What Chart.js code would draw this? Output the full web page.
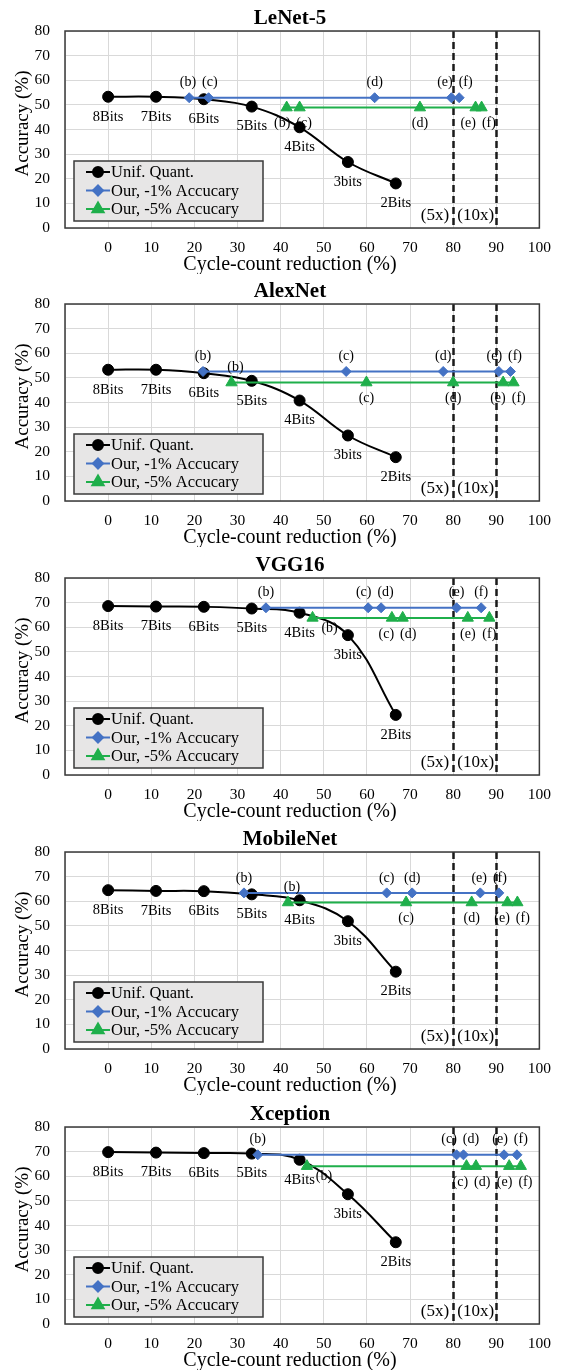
<!DOCTYPE html>
<html>
<head>
<meta charset="utf-8">
<title>Accuracy vs cycle-count reduction</title>
<script src="https://cdn.jsdelivr.net/npm/chart.js@4.4.0/dist/chart.umd.min.js"></script>
<style>
  html, body { margin: 0; padding: 0; background: #ffffff; }
  body { width: 562px; height: 1372px; position: relative; overflow: hidden; }
  .panel { position: absolute; left: 0; width: 562px; height: 274px; }
</style>
</head>
<body>
<div class="panel" style="top:0px"><canvas id="c0" width="562" height="274"></canvas></div>
<div class="panel" style="top:273px"><canvas id="c1" width="562" height="274"></canvas></div>
<div class="panel" style="top:547px"><canvas id="c2" width="562" height="274"></canvas></div>
<div class="panel" style="top:821px"><canvas id="c3" width="562" height="274"></canvas></div>
<div class="panel" style="top:1096px"><canvas id="c4" width="562" height="274"></canvas></div>
<script>
// Shared categories / labels.
const bitLabels = ['8Bits', '7Bits', '6Bits', '5Bits', '4Bits', '3bits', '2Bits'];
const unifX = [0, 11.1, 22.2, 33.3, 44.4, 55.6, 66.7];
const ourLabels = ['(b)', '(c)', '(d)', '(e)', '(f)'];
const seriesNames = ['Unif. Quant.', 'Our, -1% Accucary', 'Our, -5% Accucary'];
const xTickMin = -10;
const xTickMax = 100;
const yTickMax = 80;
const speedupX = [80, 90];
const speedupLabels = ['(5x)', '(10x)'];

// LeNet-5
const lenetUnif = [53.3, 53.3, 52.3, 49.3, 40.9, 26.8, 18.1];
const lenetOur1X = [18.8, 23.3, 61.8, 79.6, 81.4];
const lenetOur1Y = [52.9, 52.9, 52.9, 52.9, 52.9];
const lenetOur5X = [41.4, 44.4, 72.3, 85.2, 86.6];
const lenetOur5Y = [48.9, 48.9, 48.9, 48.9, 48.9];

// AlexNet
const alexUnif = [53.3, 53.3, 51.9, 48.8, 40.8, 26.6, 17.8];
const alexOur1X = [22.0, 55.2, 77.7, 90.6, 93.3];
const alexOur1Y = [52.6, 52.6, 52.6, 52.6, 52.6];
const alexOur5X = [28.6, 59.9, 80.0, 91.6, 94.0];
const alexOur5Y = [48.1, 48.1, 48.1, 48.1, 48.1];

// VGG16
const vggUnif = [68.6, 68.4, 68.3, 67.6, 65.9, 56.8, 24.4];
const vggOur1X = [36.6, 60.3, 63.3, 80.8, 86.5];
const vggOur1Y = [67.9, 67.9, 67.9, 67.9, 67.9];
const vggOur5X = [47.4, 65.8, 68.3, 83.4, 88.4];
const vggOur5Y = [63.8, 63.8, 63.8, 63.8, 63.8];

// MobileNet
const mobileUnif = [64.5, 64.2, 64.1, 62.8, 60.4, 51.9, 31.4];
const mobileOur1X = [31.5, 64.6, 70.5, 86.3, 90.6];
const mobileOur1Y = [63.4, 63.4, 63.4, 63.4, 63.4];
const mobileOur5X = [41.7, 69.1, 84.3, 92.6, 94.9];
const mobileOur5Y = [59.5, 59.5, 59.5, 59.5, 59.5];

// Xception
const xcepUnif = [69.8, 69.6, 69.4, 69.2, 66.7, 52.7, 33.2];
const xcepOur1X = [34.7, 80.8, 82.4, 91.8, 94.8];
const xcepOur1Y = [68.7, 68.7, 68.7, 68.7, 68.7];
const xcepOur5X = [46.1, 83.1, 85.3, 93.0, 95.7];
const xcepOur5Y = [64.1, 64.1, 64.1, 64.1, 64.1];

// Where the -5% labels sit: b = below, a = above, r = below right.
const lenetOur5Place = ['b', 'b', 'b', 'b', 'b'];
const alexOur5Place = ['a', 'b', 'b', 'b', 'b'];
const vggOur5Place = ['r', 'b', 'b', 'b', 'b'];
const mobileOur5Place = ['a', 'b', 'b', 'b', 'b'];
const xcepOur5Place = ['r', 'b', 'b', 'b', 'b'];

const panels = [
	{ title: 'LeNet-5', unif: lenetUnif, o1x: lenetOur1X, o1y: lenetOur1Y, o5x: lenetOur5X, o5y: lenetOur5Y, place: lenetOur5Place },
	{ title: 'AlexNet', unif: alexUnif, o1x: alexOur1X, o1y: alexOur1Y, o5x: alexOur5X, o5y: alexOur5Y, place: alexOur5Place },
	{ title: 'VGG16', unif: vggUnif, o1x: vggOur1X, o1y: vggOur1Y, o5x: vggOur5X, o5y: vggOur5Y, place: vggOur5Place },
	{ title: 'MobileNet', unif: mobileUnif, o1x: mobileOur1X, o1y: mobileOur1Y, o5x: mobileOur5X, o5y: mobileOur5Y, place: mobileOur5Place },
	{ title: 'Xception', unif: xcepUnif, o1x: xcepOur1X, o1y: xcepOur1Y, o5x: xcepOur5X, o5y: xcepOur5Y, place: xcepOur5Place }
];

const SERIF = '"Liberation Serif", "Times New Roman", serif';
const colors = { unif: '#000000', our1: '#4472C4', our5: '#1FAF4B', grid: '#d9d9d9', frame: '#3a3a3a' };

// Spread labels of one row so they do not overlap.
function spreadRow(items, gap) {
	items.sort(function(a, b) { return a.x - b.x; });
	for (let it = 0; it < 30; it++) {
		for (let i = 1; i < items.length; i++) {
			const a = items[i - 1], b = items[i];
			const need = a.w / 2 + b.w / 2 + gap - (b.x - a.x);
			if (need > 0) {
				a.x -= need / 2;
				b.x += need / 2;
			}
		}
	}
}

const decor = {
	id: 'decor',
	beforeDatasetsDraw: function(chart) {
		const ctx = chart.ctx;
		const area = chart.chartArea;
		const xs = chart.scales.x;
		ctx.save();
		// Speed-up markers.
		ctx.strokeStyle = '#1a1a1a';
		ctx.lineWidth = 2.5;
		ctx.setLineDash([7, 4]);
		speedupX.forEach(function(v) {
			const px = Math.round(xs.getPixelForValue(v)) + 0.5;
			ctx.beginPath();
			ctx.moveTo(px, area.top);
			ctx.lineTo(px, area.bottom);
			ctx.stroke();
		});
		ctx.setLineDash([]);
		const p80 = xs.getPixelForValue(speedupX[0]);
		const p90 = xs.getPixelForValue(speedupX[1]);
		ctx.fillStyle = '#000';
		ctx.font = '17px ' + SERIF;
		ctx.textBaseline = 'middle';
		ctx.textAlign = 'right';
		ctx.fillText(speedupLabels[0], p80 - 4, area.bottom - 12);
		ctx.textAlign = 'center';
		ctx.fillText(speedupLabels[1], (p80 + p90) / 2 + 1, area.bottom - 12);
		// Plot frame.
		ctx.strokeStyle = colors.frame;
		ctx.lineWidth = 1.5;
		ctx.strokeRect(area.left, area.top, area.right - area.left, area.bottom - area.top);
		ctx.restore();
	},
	afterDatasetsDraw: function(chart) {
		const ctx = chart.ctx;
		const area = chart.chartArea;
		const panel = panels[+chart.canvas.id.slice(1)];
		ctx.save();
		ctx.fillStyle = '#000';
		ctx.textBaseline = 'middle';
		ctx.textAlign = 'center';

		// Bit labels under the uniform quantisation points.
		ctx.font = '14.5px ' + SERIF;
		chart.getDatasetMeta(0).data.forEach(function(pt, i) {
			ctx.fillText(bitLabels[i], pt.x, pt.y + 20);
		});

		// (b)..(f) labels.
		ctx.font = '14px ' + SERIF;
		const rows = { a1: [], a5: [], b5: [], r5: [] };
		chart.getDatasetMeta(1).data.forEach(function(pt, i) {
			rows.a1.push({ t: ourLabels[i], x: pt.x, y: pt.y - 15, w: ctx.measureText(ourLabels[i]).width });
		});
		chart.getDatasetMeta(2).data.forEach(function(pt, i) {
			const w = ctx.measureText(ourLabels[i]).width;
			const pl = panel.place[i];
			if (pl === 'a') rows.a5.push({ t: ourLabels[i], x: pt.x + 4, y: pt.y - 15, w: w });
			else if (pl === 'r') rows.r5.push({ t: ourLabels[i], x: pt.x + 17, y: pt.y + 10, w: w });
			else rows.b5.push({ t: ourLabels[i], x: pt.x, y: pt.y + 16, w: w });
		});
		Object.keys(rows).forEach(function(k) {
			spreadRow(rows[k], 6);
			rows[k].forEach(function(l) { ctx.fillText(l.t, l.x, l.y); });
		});

		// Legend box.
		const lx = area.left + 9, ly = area.top + 130, lw = 189, lh = 60;
		ctx.fillStyle = '#e7e6e6';
		ctx.fillRect(lx, ly, lw, lh);
		ctx.strokeStyle = colors.frame;
		ctx.lineWidth = 1.5;
		ctx.strokeRect(lx, ly, lw, lh);
		const styles = [
			{ c: colors.unif, s: 'circle', r: 5 },
			{ c: colors.our1, s: 'rectRot', r: 5 },
			{ c: colors.our5, s: 'triangle', r: 6.5 }
		];
		ctx.font = '16.5px ' + SERIF;
		ctx.textAlign = 'left';
		styles.forEach(function(st, i) {
			const ry = ly + 11 + i * 18.5;
			ctx.strokeStyle = st.c;
			ctx.fillStyle = st.c;
			ctx.lineWidth = 2;
			ctx.beginPath();
			ctx.moveTo(lx + 12, ry);
			ctx.lineTo(lx + 36, ry);
			ctx.stroke();
			Chart.helpers.drawPoint(ctx, { pointStyle: st.s, radius: st.r, rotation: 0, borderWidth: 1 }, lx + 24, ry);
			ctx.fillStyle = '#000';
			ctx.fillText(seriesNames[i], lx + 37, ry + 1);
		});

		// Chart and axis titles.
		ctx.textAlign = 'center';
		ctx.fillStyle = '#000';
		ctx.font = 'bold 21px ' + SERIF;
		ctx.fillText(panel.title, 290, 19);
		ctx.font = '20px ' + SERIF;
		ctx.fillText('Cycle-count reduction (%)', 290, 265);
		ctx.save();
		ctx.translate(23, (area.top + area.bottom) / 2 - 6);
		ctx.rotate(-Math.PI / 2);
		ctx.font = '19px ' + SERIF;
		ctx.fillText('Accuracy (%)', 0, 0);
		ctx.restore();
		ctx.restore();
	}
};

panels.forEach(function(p, idx) {
	const canvas = document.getElementById('c' + idx);
	new Chart(canvas, {
		type: 'line',
		data: {
			datasets: [
				{
					label: seriesNames[0],
					data: unifX.map(function(x, i) { return { x: x, y: p.unif[i] }; }),
					borderColor: colors.unif,
					backgroundColor: colors.unif,
					borderWidth: 2,
					tension: 0.4,
					pointStyle: 'circle',
					pointRadius: 5.5,
					pointBorderWidth: 1,
					order: 3
				},
				{
					label: seriesNames[1],
					data: p.o1x.map(function(x, i) { return { x: x, y: p.o1y[i] }; }),
					borderColor: colors.our1,
					backgroundColor: colors.our1,
					borderWidth: 2,
					tension: 0,
					pointStyle: 'rectRot',
					pointRadius: 5,
					pointBorderWidth: 1,
					order: 2
				},
				{
					label: seriesNames[2],
					data: p.o5x.map(function(x, i) { return { x: x, y: p.o5y[i] }; }),
					borderColor: colors.our5,
					backgroundColor: colors.our5,
					borderWidth: 2,
					tension: 0,
					pointStyle: 'triangle',
					pointRadius: 6.5,
					pointBorderWidth: 1,
					order: 1
				}
			]
		},
		options: {
			responsive: false,
			animation: false,
			devicePixelRatio: 1,
			layout: { padding: { left: 0, right: 15, top: 31, bottom: 0 } },
			plugins: {
				legend: { display: false },
				title: { display: false },
				tooltip: { enabled: false }
			},
			scales: {
				x: {
					type: 'linear',
					min: xTickMin,
					max: xTickMax,
					afterFit: function(scale) { scale.height = 46; },
					border: { display: false },
					grid: { color: colors.grid, lineWidth: 1, drawTicks: false },
					ticks: {
						stepSize: 10,
						padding: 11,
						autoSkip: false,
						maxRotation: 0,
						color: '#000',
						font: { family: SERIF, size: 15.5 },
						callback: function(value) { return value < 0 ? '' : value; }
					}
				},
				y: {
					min: 0,
					max: yTickMax,
					afterFit: function(scale) { scale.width = 65; },
					border: { display: false },
					grid: { color: colors.grid, lineWidth: 1, drawTicks: false },
					ticks: {
						stepSize: 10,
						padding: 15,
						color: '#000',
						font: { family: SERIF, size: 15.5 }
					}
				}
			}
		},
		plugins: [decor]
	});
});
</script>
</body>
</html>
